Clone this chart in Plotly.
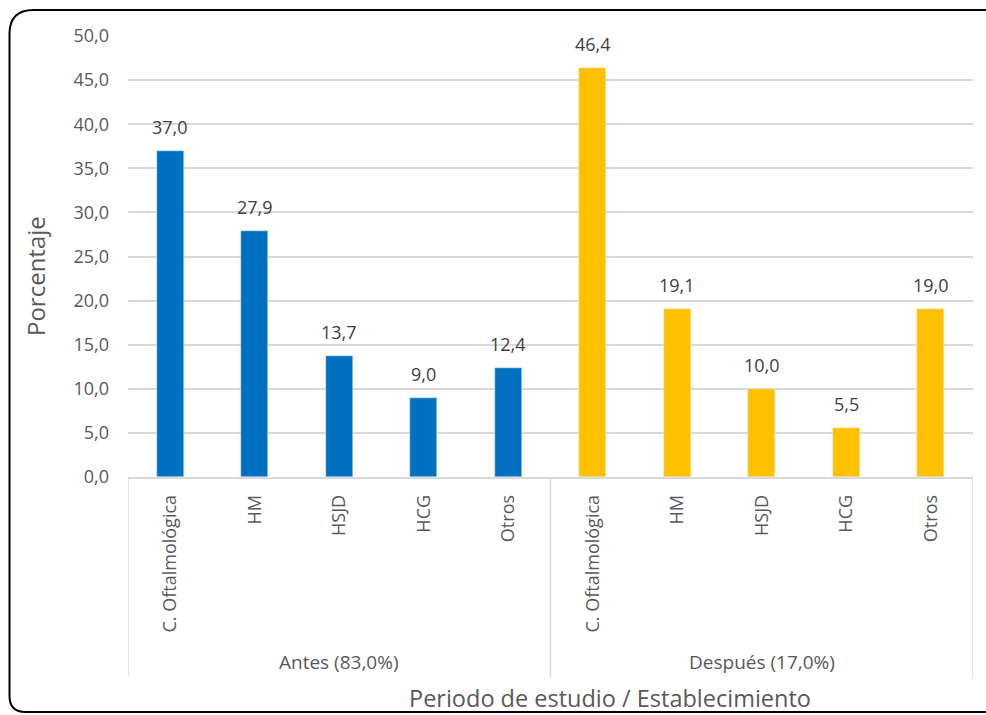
import plotly.graph_objects as go

categories = ["C. Oftalmológica", "HM", "HSJD", "HCG", "Otros"]
groups = ["Antes (83,0%)", "Después (17,0%)"]
antes = [37.0, 27.9, 13.7, 9.0, 12.4]
despues = [46.4, 19.1, 10.0, 5.5, 19.0]
y_ticks = [0, 5, 10, 15, 20, 25, 30, 35, 40, 45, 50]

W, H = 986, 715
L, R, T, B = 128, 13, 36, 238
pw, ph = W - L - R, H - T - B

def px(x):
    return (x - L) / pw

def py(y):
    return (H - B - y) / ph

FONT = "Open Sans"
GRAY = "#595959"
LINE = "#D9D9D9"

x_a = list(range(len(categories)))
x_d = [i + len(categories) for i in range(len(categories))]

fig = go.Figure()
fig.add_trace(go.Bar(x=x_a, y=antes, marker_color="#0070C0", width=0.32, showlegend=False))
fig.add_trace(go.Bar(x=x_d, y=despues, marker_color="#FFC000", width=0.32, showlegend=False))

for xs, vals in ((x_a, antes), (x_d, despues)):
    for x, v in zip(xs, vals):
        fig.add_annotation(x=x, y=v, xref="x", yref="y", text=f"{v:.1f}".replace(".", ","),
                           showarrow=False, xanchor="center", yanchor="bottom", yshift=10,
                           font=dict(family=FONT, size=18, color="#404040"))

# group labels
for gi, g in enumerate(groups):
    fig.add_annotation(x=gi * len(categories) + (len(categories) - 1) / 2, y=py(662),
                       xref="x", yref="paper", text=g, showarrow=False,
                       xanchor="center", yanchor="middle",
                       font=dict(family=FONT, size=19, color=GRAY))

# dividers
n = len(categories) * len(groups)
for xd in [-0.5, len(categories) - 0.5, n - 0.5]:
    fig.add_shape(type="line", xref="x", yref="paper", x0=xd, x1=xd, y0=0, y1=py(677),
                  line=dict(color=LINE, width=1.5))

# titles
fig.add_annotation(x=px(610), y=py(698), xref="paper", yref="paper",
                   text="Periodo de estudio / Establecimiento", showarrow=False,
                   xanchor="center", yanchor="middle",
                   font=dict(family=FONT, size=23.5, color=GRAY))
fig.add_annotation(x=px(35), y=py(276), xref="paper", yref="paper", text="Porcentaje",
                   showarrow=False, textangle=-90, xanchor="center", yanchor="middle",
                   font=dict(family=FONT, size=24, color=GRAY))

# rounded border
x0, x1 = px(9.5), px(996)
y0, y1 = py(712), py(10)
rx_tl, ry_tl = 24 / pw, 24 / ph
rx_bl, ry_bl = 16 / pw, 16 / ph
path = (f"M {x0 + rx_tl} {y1} L {x1} {y1} L {x1} {y0} L {x0 + rx_bl} {y0} "
        f"Q {x0} {y0} {x0} {y0 + ry_bl} L {x0} {y1 - ry_tl} Q {x0} {y1} {x0 + rx_tl} {y1} Z")
fig.add_shape(type="path", xref="paper", yref="paper", path=path,
              line=dict(color="black", width=2), layer="above")

fig.update_layout(
    width=W, height=H,
    margin=dict(l=L, r=R, t=T, b=B),
    paper_bgcolor="white", plot_bgcolor="white",
    separators=",.",
    bargap=0,
    font=dict(family=FONT, color=GRAY),
    xaxis=dict(range=[-0.5, n - 0.5], tickvals=x_a + x_d, ticktext=categories * 2,
               tickangle=-90, ticks="", showgrid=False, showline=True, linecolor=LINE,
               linewidth=1.5, tickfont=dict(family=FONT, size=18, color=GRAY),
               ticklabelstandoff=9, zeroline=False),
    yaxis=dict(range=[0, 50], tickvals=y_ticks, tickformat=".1f", showgrid=True,
               gridcolor=LINE, gridwidth=1.5, zeroline=False, showline=False,
               ticks="", tickfont=dict(family=FONT, size=18, color=GRAY),
               ticklabelstandoff=18),
)

fig.write_html("out.html")
